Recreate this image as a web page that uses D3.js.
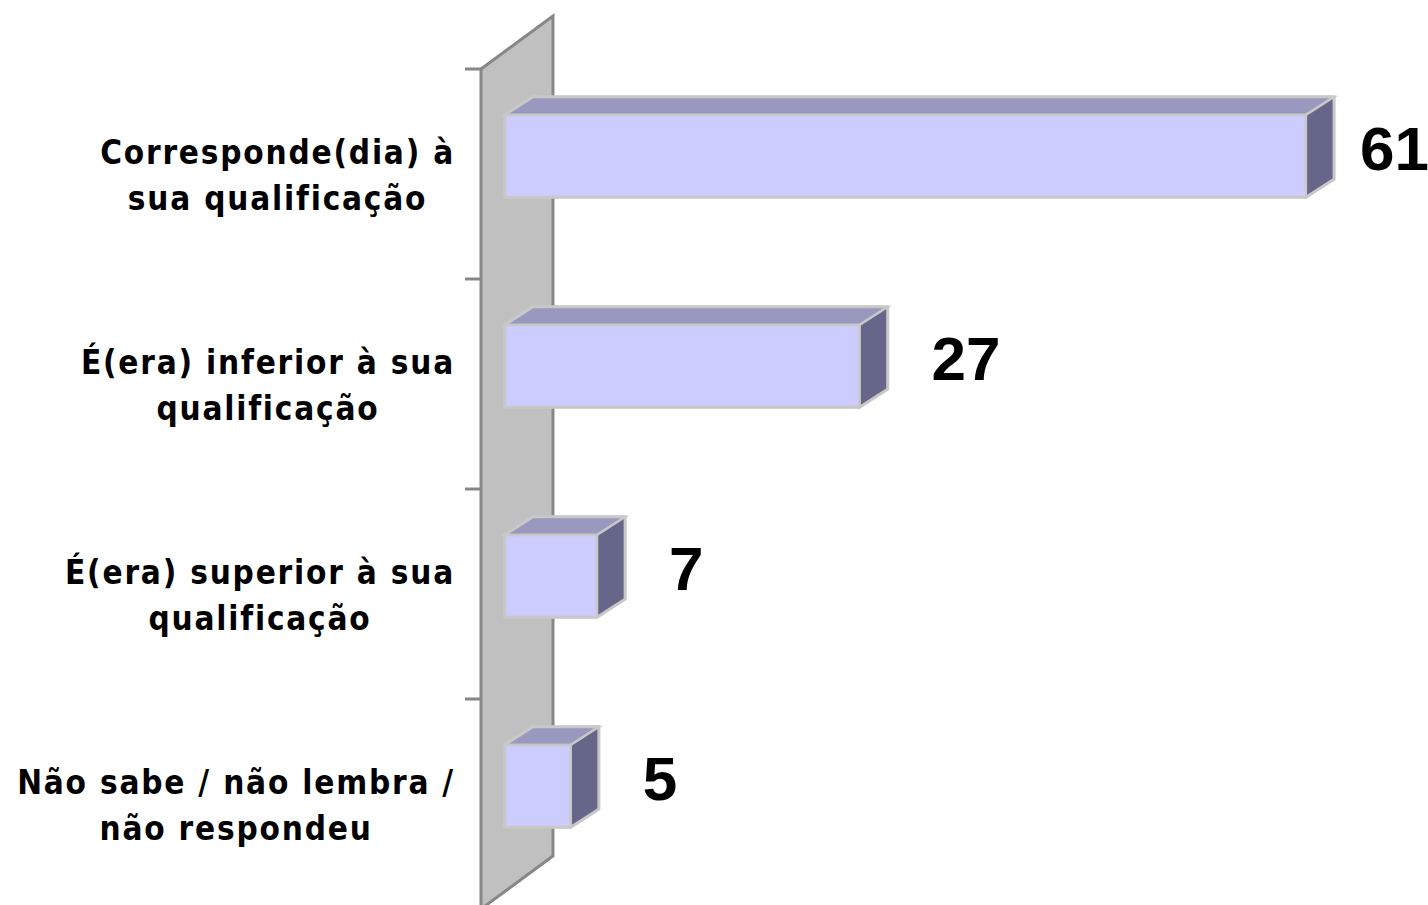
<!DOCTYPE html>
<html>
<head>
<meta charset="utf-8">
<script src="https://cdn.jsdelivr.net/npm/d3@7"></script>
<style>
  body { margin: 0; background: #fff; }
  svg { display: block; }
</style>
</head>
<body>
<svg id="chart"></svg>
<script>
const categories = [
  ["Corresponde(dia) à", "sua qualificação"],
  ["É(era) inferior à sua", "qualificação"],
  ["É(era) superior à sua", "qualificação"],
  ["Não sabe / não lembra /", "não respondeu"]
];
const values = [61, 27, 7, 5];
const valueLabels = ["61", "27", "7", "5"];

window.addEventListener("load", () => {
  const W = 1428, H = 905;
  const svg = d3.select("#chart").attr("width", W).attr("height", H);

  const keys = categories.map(c => c.join(" "));
  const x = d3.scaleLinear().domain([0, 70]).range([505, 1424]);
  const y = d3.scaleBand().domain(keys).range([69, 909]);

  const dx = 28, dy = -18;      // depth of the 3d effect
  const wallL = 481, wallR = 553;

  // wall (back plane)
  const wall = svg.append("g");
  wall.append("polygon")
    .attr("points", [[wallL, 69], [wallR, 16], [wallR, 856], [wallL, 909]].join(" "))
    .attr("fill", "#c0c0c0");
  wall.append("polyline")
    .attr("points", [[wallL, 909], [wallL, 69], [wallR, 16], [wallR, 856], [wallL, 909]].join(" "))
    .attr("fill", "none").attr("stroke", "#878787").attr("stroke-width", 3);

  // ticks at band edges
  const edges = keys.map(k => y(k)).concat([y.range()[1]]);
  wall.selectAll("line.tick").data(edges).enter().append("line")
    .attr("class", "tick")
    .attr("x1", wallL - 16).attr("x2", wallL)
    .attr("y1", d => d).attr("y2", d => d)
    .attr("stroke", "#878787").attr("stroke-width", 3);

  const bh = 82, off = 46;
  const bars = svg.selectAll("g.bar").data(values).enter().append("g").attr("class", "bar");
  bars.each(function (v, i) {
    const g = d3.select(this);
    const x0 = x(0), x1 = x(v);
    const t = y(keys[i]) + off, b = t + bh;
    // outline silhouette
    g.append("polygon")
      .attr("points", [[x0, t], [x0 + dx, t + dy], [x1 + dx, t + dy], [x1 + dx, b + dy], [x1, b], [x0, b]].join(" "))
      .attr("fill", "#c8c8c8").attr("stroke", "#c8c8c8").attr("stroke-width", 3.5)
      .attr("stroke-linejoin", "round");
    g.append("polygon")
      .attr("points", [[x0, t], [x0 + dx, t + dy], [x1 + dx, t + dy], [x1, t]].join(" "))
      .attr("fill", "#9999c0").attr("stroke", "#c8c8c8").attr("stroke-width", 2.5);
    g.append("polygon")
      .attr("points", [[x1, t], [x1 + dx, t + dy], [x1 + dx, b + dy], [x1, b]].join(" "))
      .attr("fill", "#66668a").attr("stroke", "#c8c8c8").attr("stroke-width", 2.5);
    g.append("rect")
      .attr("x", x0).attr("y", t).attr("width", x1 - x0).attr("height", bh)
      .attr("fill", "#ccccff").attr("stroke", "#c8c8c8").attr("stroke-width", 2.5);

    const lab = g.append("text")
      .attr("y", t + 33)
      .attr("dominant-baseline", "central")
      .attr("font-family", "Liberation Sans, Arial, sans-serif")
      .attr("font-weight", "bold").attr("font-size", 62)
      .attr("fill", "#000")
      .text(valueLabels[i]);
    const lw = lab.node().getComputedTextLength();
    lab.attr("x", Math.min(x1 + 72, W + 1 - lw));
  });

  // category labels, two lines, centred on the widest line which ends at 455
  const labelRight = 455;
  categories.forEach((lines, i) => {
    const g = svg.append("g");
    const texts = lines.map((l, j) => g.append("text")
      .attr("y", y(keys[i]) + off + 37 + j * 46)
      .attr("dominant-baseline", "central")
      .attr("text-anchor", "middle")
      .attr("font-family", "DejaVu Sans Condensed, DejaVu Sans, sans-serif")
      .attr("font-weight", "bold").attr("font-size", 33)
      .attr("letter-spacing", 1.8)
      .attr("fill", "#000")
      .text(l));
    const maxW = d3.max(texts, t => t.node().getComputedTextLength());
    texts.forEach(t => t.attr("x", labelRight - maxW / 2));
  });
});
</script>
</body>
</html>
